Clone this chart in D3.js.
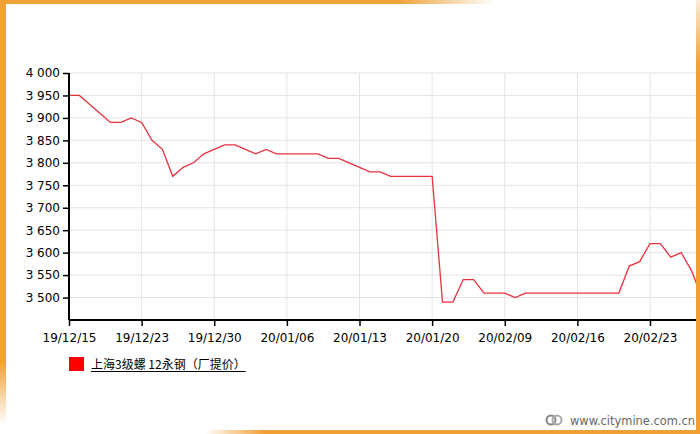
<!DOCTYPE html>
<html>
<head>
<meta charset="utf-8">
<script src="https://cdn.jsdelivr.net/npm/d3@7/dist/d3.min.js"></script>
<style>
body { margin: 0; background: #fff; }
svg { display: block; }
</style>
</head>
<body>
<svg id="chart"></svg>
<script>
var width = 700
var height = 434

// tick labels, one every 7 points
var tickLabels = ['19/12/15', '19/12/23', '19/12/30', '20/01/06', '20/01/13', '20/01/20', '20/02/09', '20/02/16', '20/02/23']
var tickEvery = 7

// price series (yuan/ton)
var prices = [
	3950, 3950, 3930, 3910, 3890, 3890, 3900, 3890, 3850, 3830,
	3770, 3790, 3800, 3820, 3830, 3840, 3840, 3830, 3820, 3830,
	3820, 3820, 3820, 3820, 3820, 3810, 3810, 3800, 3790, 3780,
	3780, 3770, 3770, 3770, 3770, 3770, 3490, 3490, 3540, 3540,
	3510, 3510, 3510, 3500, 3510, 3510, 3510, 3510, 3510, 3510,
	3510, 3510, 3510, 3510, 3570, 3580, 3620, 3620, 3590, 3600,
	3560, 3500
]
var yTicks = [3500, 3550, 3600, 3650, 3700, 3750, 3800, 3850, 3900, 3950, 4000]
var seriesName = '上海3级螺 12永钢（厂提价）'

var plotLeft = 69, plotRight = 697, plotTop = 73, plotBottom = 320

var svg = d3.select('#chart').attr('width', width).attr('height', height)
var defs = svg.append('defs')

defs.append('clipPath').attr('id', 'plotclip')
	.append('rect').attr('x', 0).attr('y', 0).attr('width', plotRight).attr('height', height)

var x = d3.scaleLinear().domain([0, 56]).range([plotLeft, 650])
var y = d3.scaleLinear().domain([3450, 4000]).range([plotBottom, plotTop])

var fmt = function(d) { return d3.format(',')(d).replace(',', ' ') }

var font = 'Tahoma, "DejaVu Sans", Verdana, sans-serif'

// grid
var grid = svg.append('g').attr('class', 'grid').attr('clip-path', 'url(#plotclip)')
grid.selectAll('line.h').data(yTicks).enter().append('line')
	.attr('x1', plotLeft).attr('x2', width)
	.attr('y1', function(d) {return y(d)}).attr('y2', function(d) {return y(d)})
	.attr('stroke', '#e4e4e4').attr('stroke-width', 1)
grid.selectAll('line.v').data(tickLabels).enter().append('line')
	.attr('x1', function(d, i) {return x(i * tickEvery)}).attr('x2', function(d, i) {return x(i * tickEvery)})
	.attr('y1', plotTop).attr('y2', plotBottom)
	.attr('stroke', '#e4e4e4').attr('stroke-width', 1)

// line
var line = d3.line()
	.x(function(d, i) {return x(i)})
	.y(function(d) {return y(d)})

svg.append('path').datum(prices)
	.attr('clip-path', 'url(#plotclip)')
	.attr('d', line)
	.attr('fill', 'none')
	.attr('stroke', '#e8323c')
	.attr('stroke-width', 1.3)

// y axis
var yAxis = svg.append('g').attr('transform', 'translate(' + plotLeft + ',0)')
	.call(d3.axisLeft(y).tickValues(yTicks).tickFormat(fmt).tickSize(6).tickPadding(3))
yAxis.select('.domain').attr('d', 'M0,' + plotTop + 'V' + plotBottom).attr('stroke', '#000').attr('stroke-width', 2)
yAxis.selectAll('.tick line').attr('stroke', '#000').attr('stroke-width', 1.5)
yAxis.selectAll('.tick text').attr('font-family', font).attr('font-size', 12).attr('fill', '#000')

// x axis
var xAxis = svg.append('g').attr('transform', 'translate(0,' + plotBottom + ')')
	.call(d3.axisBottom(x).tickValues(tickLabels.map(function(d, i) {return i * tickEvery}))
		.tickFormat(function(d) {return tickLabels[d / tickEvery]}).tickSize(6).tickPadding(7))
xAxis.select('.domain').attr('d', 'M' + plotLeft + ',0H' + plotRight).attr('stroke', '#000').attr('stroke-width', 2)
xAxis.selectAll('.tick line').attr('stroke', '#000').attr('stroke-width', 1.5)
xAxis.selectAll('.tick text').attr('font-family', font).attr('font-size', 12).attr('fill', '#000')

// legend
var legend = svg.append('g').attr('transform', 'translate(69,357)')
legend.append('rect').attr('width', 15).attr('height', 14).attr('fill', '#ff0000')
var lt = legend.append('text').attr('x', 22).attr('y', 11.5)
	.attr('font-family', '"Noto Sans CJK SC", ' + font).attr('font-size', 12).attr('fill', '#000')
	.text(seriesName)
var tw = lt.node().getComputedTextLength()
legend.append('line').attr('x1', 22).attr('x2', 22 + tw).attr('y1', 14.5).attr('y2', 14.5)
	.attr('stroke', '#000').attr('stroke-width', 1)

// watermark
var wm = svg.append('g').attr('transform', 'translate(546,425)')
wm.append('circle').attr('cx', 5).attr('cy', -5).attr('r', 4.5).attr('fill', 'none').attr('stroke', '#888').attr('stroke-width', 2)
wm.append('circle').attr('cx', 11).attr('cy', -5).attr('r', 4.5).attr('fill', 'none').attr('stroke', '#aaa').attr('stroke-width', 2)
wm.append('text').attr('x', 24).attr('y', 0).attr('font-family', font).attr('font-size', 11.5)
	.attr('textLength', 125).attr('lengthAdjust', 'spacingAndGlyphs')
	.attr('fill', '#666').text('www.citymine.com.cn')

// orange frame
var orange = '#f0a035'
function grad(id, x1, y1, x2, y2, stops) {
	var g = defs.append('linearGradient').attr('id', id)
		.attr('x1', x1).attr('y1', y1).attr('x2', x2).attr('y2', y2)
	stops.forEach(function(s) {
		g.append('stop').attr('offset', s[0]).attr('stop-color', orange).attr('stop-opacity', s[1])
	})
}
grad('gtop', 0, 0, 1, 0, [[0, 1], [0.8, 1], [1, 0]])
grad('gleft', 0, 0, 0, 1, [[0, 1], [0.85, 1], [1, 0]])
grad('gright', 0, 0, 0, 1, [[0, 0.2], [0.15, 1], [1, 1]])
grad('gbottom', 0, 0, 1, 0, [[0, 0], [0.12, 1], [1, 1]])

svg.append('rect').attr('x', 0).attr('y', 0).attr('width', 495).attr('height', 4).attr('fill', 'url(#gtop)')
svg.append('rect').attr('x', 0).attr('y', 0).attr('width', 6).attr('height', 425).attr('fill', 'url(#gleft)')
svg.append('rect').attr('x', 696).attr('y', 0).attr('width', 4).attr('height', 434).attr('fill', 'url(#gright)')
svg.append('rect').attr('x', 205).attr('y', 430).attr('width', 495).attr('height', 4).attr('fill', 'url(#gbottom)')
</script>
</body>
</html>
